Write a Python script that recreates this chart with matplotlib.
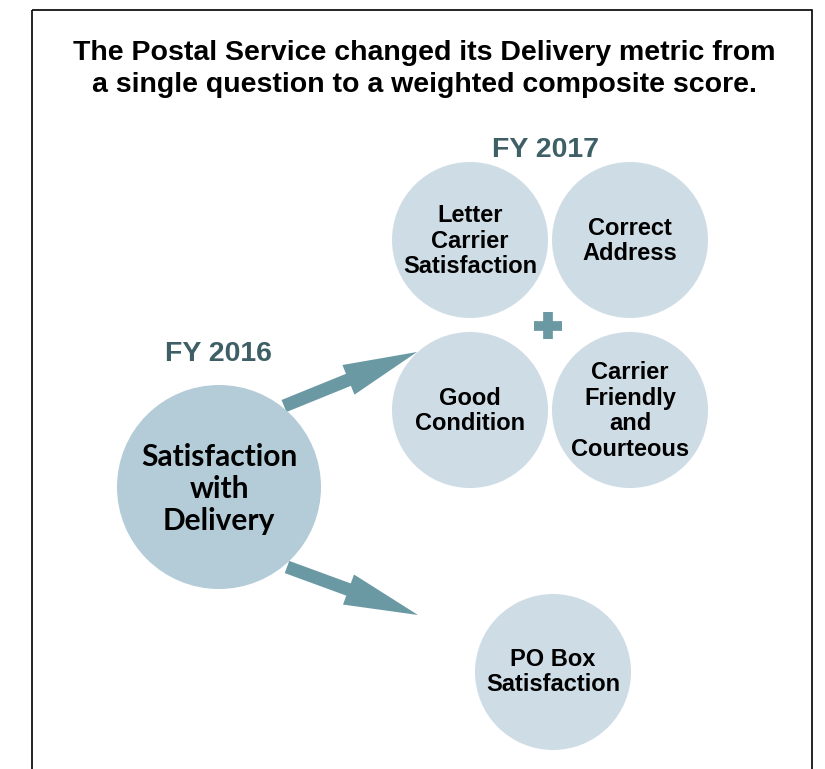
import matplotlib.pyplot as plt
from matplotlib.patches import Circle, Rectangle, FancyArrow

title = "The Postal Service changed its Delivery metric from\na single question to a weighted composite score."
old_label = "FY 2016"
new_label = "FY 2017"
old_metric = "Satisfaction\nwith\nDelivery"
new_metrics = ["Letter\nCarrier\nSatisfaction", "Correct\nAddress",
               "Good\nCondition", "Carrier\nFriendly\nand\nCourteous"]
po_metric = "PO Box\nSatisfaction"

# layout in pixel coords (y down)
new_xy = [(470, 240), (630, 240), (470, 410), (630, 410)]
small_r = 78

fig = plt.figure(figsize=(8.25, 7.69), dpi=100)
ax = fig.add_axes([0, 0, 1, 1])
ax.set_xlim(0, 825)
ax.set_ylim(769, 0)
ax.set_aspect("equal")
ax.axis("off")

ax.add_patch(Rectangle((32, 10), 780, 800, fill=False, edgecolor="black", lw=1.2))

ax.text(424, 69, title, ha="center", va="center", fontsize=20.5, fontweight="bold",
        family="Liberation Sans", linespacing=1.27)

ax.text(546, 150, new_label, ha="center", va="center", fontsize=20.5, fontweight="bold",
        color="#3E5F66", family="Liberation Sans")
ax.text(218, 354, old_label, ha="center", va="center", fontsize=20.5, fontweight="bold",
        color="#3E5F66", family="Liberation Sans")

# arrows
arrow_col = "#6A99A4"
ax.add_patch(FancyArrow(284, 406, 133, -54, width=13, head_width=32, head_length=74,
                        length_includes_head=True, color=arrow_col, lw=0))
ax.add_patch(FancyArrow(287, 567, 131, 48, width=13, head_width=32, head_length=74,
                        length_includes_head=True, color=arrow_col, lw=0))

# big circle
ax.add_patch(Circle((219, 487), 102, facecolor="#B4CCD8", edgecolor="none"))
ax.text(219, 489, old_metric, ha="center", va="center", fontsize=21.5, fontweight="bold",
        family="Lato", linespacing=1.19)

for (x, y), lab in zip(new_xy, new_metrics):
    ax.add_patch(Circle((x, y), small_r, facecolor="#CEDCE5", edgecolor="none"))
    ax.text(x, y + 1, lab, ha="center", va="center", fontsize=17, fontweight="bold",
            family="Liberation Sans", linespacing=1.15)

ax.add_patch(Circle((553, 672), small_r, facecolor="#CEDCE5", edgecolor="none"))
ax.text(553, 672, po_metric, ha="center", va="center", fontsize=17, fontweight="bold",
        family="Liberation Sans", linespacing=1.15)

# plus sign
ax.plot([548, 548], [312, 339], color=arrow_col, lw=7, solid_capstyle="butt")
ax.plot([534, 562], [325.5, 325.5], color=arrow_col, lw=7, solid_capstyle="butt")

fig.savefig("out.png", dpi=100)
